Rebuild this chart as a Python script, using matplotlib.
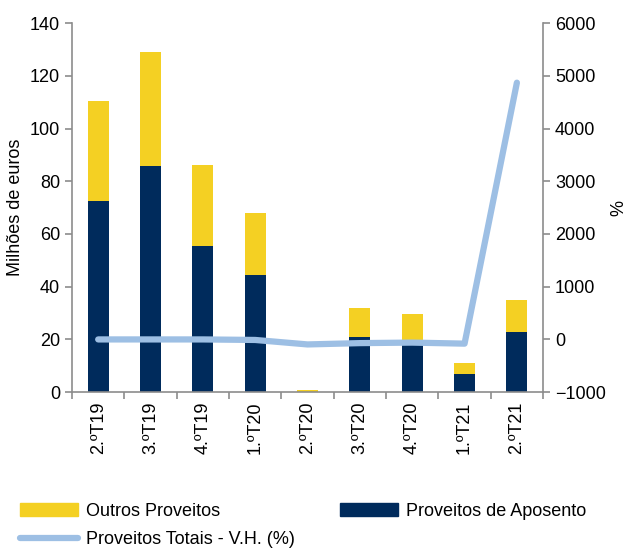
import numpy as np
import matplotlib.pyplot as plt
from matplotlib.patches import Patch
from matplotlib.lines import Line2D

plt.rcParams['font.family'] = ['Liberation Sans', 'DejaVu Sans']
plt.rcParams['font.size'] = 13

# Data
quarters = ['2.ºT19', '3.ºT19', '4.ºT19', '1.ºT20', '2.ºT20', '3.ºT20', '4.ºT20', '1.ºT21', '2.ºT21']
aposento = [72.5, 85.7, 55.4, 44.4, 0.2, 20.9, 18.0, 6.8, 23.0]
outros = [38.0, 43.4, 30.6, 23.6, 0.5, 11.0, 11.6, 4.2, 12.0]
var_homologa = [0, 0, 0, -10, -95, -70, -60, -80, 4870]

yellow = '#F4D023'
navy = '#002B5C'
light_blue = '#9DBFE4'
grey = '#8C8C8C'

fig = plt.figure(figsize=(6.3, 5.5), dpi=100)
ax = fig.add_axes([0.1143, 0.287, 0.7477, 0.671])
x = np.arange(len(quarters))

ax.bar(x, aposento, width=0.4, color=navy, zorder=2)
ax.bar(x, outros, width=0.4, bottom=aposento, color=yellow, zorder=2)

ax.set_xlim(-0.5, len(quarters) - 0.5)
ax.set_ylim(0, 140)
ax.set_yticks(range(0, 141, 20))
ax.set_ylabel('Milhões de euros', labelpad=4)

ax.set_xticks(x)
ax.set_xticklabels(quarters, rotation=90)
ax.set_xticks(np.arange(-0.5, len(quarters), 1), minor=True)
ax.tick_params(axis='x', which='major', length=0, pad=7)
ax.tick_params(axis='x', which='minor', length=5, color=grey, width=1.2)
ax.tick_params(axis='y', length=5, color=grey, width=1.2)

for s in ['top', 'right']:
    ax.spines[s].set_visible(False)
for s in ['left', 'bottom']:
    ax.spines[s].set_color(grey)
    ax.spines[s].set_linewidth(1.2)

ax2 = ax.twinx()
ax2.plot(x, var_homologa, color=light_blue, lw=4.5, solid_capstyle='round',
         solid_joinstyle='round', zorder=3)
ax2.set_ylim(-1000, 6000)
ax2.set_yticks(range(-1000, 6001, 1000))
ax2.set_ylabel('%', labelpad=3)
ax2.tick_params(axis='y', length=5, color=grey, width=1.2)
for s in ['top', 'left', 'bottom']:
    ax2.spines[s].set_visible(False)
ax2.spines['right'].set_color(grey)
ax2.spines['right'].set_linewidth(1.2)

handles = [Patch(color=yellow), Line2D([], [], color=light_blue, lw=4.5, solid_capstyle='round'),
           Patch(color=navy)]
labels = ['Outros Proveitos', 'Proveitos Totais - V.H. (%)', 'Proveitos de Aposento']
fig.legend(handles, labels, ncol=2, loc='upper left', bbox_to_anchor=(0.032, 0.086),
           frameon=False, handlelength=3.2, handleheight=0.7, handletextpad=0.45,
           columnspacing=2.5, labelspacing=0.65, borderaxespad=0, borderpad=0)

fig.savefig('out.png', dpi=100)
